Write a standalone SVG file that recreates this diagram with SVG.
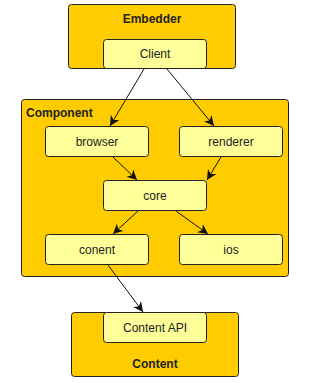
<svg xmlns="http://www.w3.org/2000/svg" width="311" height="383" viewBox="0 0 311 383">
<style>
.box{fill:#FFCC00;stroke:#222;stroke-width:1}
.node{fill:#FFFF99;stroke:#222;stroke-width:1}
.t{font-family:"Liberation Sans",Arial,sans-serif;font-size:12px;fill:#222;text-anchor:middle}
.b{font-weight:bold}
.e{stroke:#111;stroke-width:1;fill:none;marker-end:url(#arr)}
</style>
<defs>
<marker id="arr" viewBox="0 0 10 10" refX="10" refY="5" markerWidth="10" markerHeight="10" markerUnits="userSpaceOnUse" orient="auto">
<path d="M0,0 L10,5 L0,10 L3,5 Z" fill="#111"/>
</marker>
</defs>
<g id="Embedder">
<rect class="box" x="68.5" y="4.5" width="167" height="64" rx="3"/>
<text class="t b" x="152" y="23">Embedder</text>
</g>
<g id="Component">
<rect class="box" x="21.5" y="99.5" width="267" height="177" rx="3"/>
<text class="t b" x="26" y="117" style="text-anchor:start">Component</text>
</g>
<g id="Content">
<rect class="box" x="71.5" y="312.5" width="167" height="64" rx="3"/>
<text class="t b" x="155" y="368">Content</text>
</g>
<g id="Client">
<rect class="node" x="103.5" y="39.5" width="103" height="29" rx="3"/>
<text class="t" x="155" y="58">Client</text>
</g>
<g id="browser">
<rect class="node" x="45.5" y="126.5" width="103" height="30" rx="3"/>
<text class="t" x="97" y="146">browser</text>
</g>
<g id="renderer">
<rect class="node" x="179.5" y="126.5" width="103" height="30" rx="3"/>
<text class="t" x="231" y="146">renderer</text>
</g>
<g id="core">
<rect class="node" x="103.5" y="180.5" width="103" height="30" rx="3"/>
<text class="t" x="155" y="200">core</text>
</g>
<g id="conent">
<rect class="node" x="45.5" y="234.5" width="103" height="30" rx="3"/>
<text class="t" x="97" y="254">conent</text>
</g>
<g id="ios">
<rect class="node" x="179.5" y="234.5" width="103" height="30" rx="3"/>
<text class="t" x="231" y="254">ios</text>
</g>
<g id="ContentAPI">
<rect class="node" x="103.5" y="312.5" width="103" height="30" rx="3"/>
<text class="t" x="155" y="332">Content API</text>
</g>
<g id="connectors">
<path class="e" d="M144,69 L110,126"/>
<path class="e" d="M167,69 L214,126"/>
<path class="e" d="M113,157 L137,180"/>
<path class="e" d="M221,157 L207,180"/>
<path class="e" d="M138,211 L113,234"/>
<path class="e" d="M176,211 L208,234"/>
<path class="e" d="M108,265 L143,312"/>
</g>
</svg>
